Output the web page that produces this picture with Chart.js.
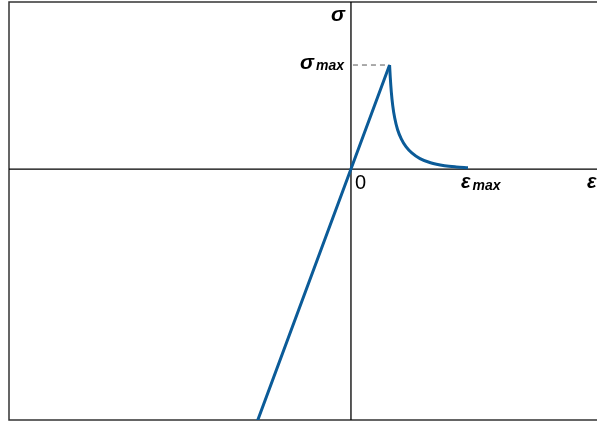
<!DOCTYPE html>
<html>
<head>
<meta charset="utf-8">
<script src="https://cdn.jsdelivr.net/npm/chart.js@4/dist/chart.umd.min.js"></script>
<style>
  body { margin: 0; background: #fff; }
  canvas { display: block; }
</style>
</head>
<body>
<canvas id="courbe" width="597" height="425"></canvas>
<script>
// données (unités réduites : sigma/sigmaMax, eps/epsMax)
const deformationLineaire = [-0.82, 0, 0.33];
const contrainteLineaire = [-2.485, 0, 1];
const deformationAdouc = [0.33, 0.336, 0.345, 0.357, 0.374, 0.398, 0.43, 0.47, 0.52, 0.59, 0.68, 0.80, 0.90, 1.0];
const contrainteAdouc = [1, 0.88, 0.74, 0.61, 0.49, 0.38, 0.29, 0.215, 0.155, 0.10, 0.06, 0.032, 0.02, 0.0125];
const sigmaMax = 1;
const epsMax = 1;

const bleu = '#0b5b98';

function points(xs, ys) {
    return xs.map((x, i) => ({ x: x, y: ys[i] }));
}

// cadre, axes passant par l'origine et étiquettes
const decor = {
    id: 'decor',
    beforeDatasetsDraw(chart) {
        const ctx = chart.ctx;
        const a = chart.chartArea;
        const sx = chart.scales.x, sy = chart.scales.y;
        const x0 = sx.getPixelForValue(0), y0 = sy.getPixelForValue(0);
        ctx.save();
        // cadre (gauche, haut, bas)
        ctx.strokeStyle = '#333';
        ctx.lineWidth = 1.5;
        ctx.beginPath();
        ctx.moveTo(a.right + 2, a.top);
        ctx.lineTo(a.left, a.top);
        ctx.lineTo(a.left, a.bottom);
        ctx.lineTo(a.right + 2, a.bottom);
        ctx.stroke();
        // axes
        ctx.strokeStyle = '#000';
        ctx.lineWidth = 1.3;
        ctx.beginPath();
        ctx.moveTo(a.left, y0); ctx.lineTo(a.right + 2, y0);
        ctx.moveTo(x0, a.top); ctx.lineTo(x0, a.bottom);
        ctx.stroke();
        // tirets sigma max
        const yMax = sy.getPixelForValue(sigmaMax);
        const xPic = sx.getPixelForValue(deformationLineaire[2]);
        ctx.strokeStyle = '#555';
        ctx.lineWidth = 1;
        ctx.setLineDash([5, 4]);
        ctx.beginPath();
        ctx.moveTo(x0 + 2, yMax); ctx.lineTo(xPic, yMax);
        ctx.stroke();
        ctx.setLineDash([]);
        ctx.restore();
    },
    afterDraw(chart) {
        const ctx = chart.ctx;
        const a = chart.chartArea;
        const sx = chart.scales.x, sy = chart.scales.y;
        const x0 = sx.getPixelForValue(0), y0 = sy.getPixelForValue(0);
        ctx.save();
        ctx.fillStyle = '#000';
        ctx.textBaseline = 'alphabetic';
        // sigma
        ctx.textAlign = 'right';
        ctx.font = 'italic bold 21px "Liberation Sans", Arial, sans-serif';
        ctx.fillText('σ', x0 - 6, a.top + 19);
        // sigma max
        const yMax = sy.getPixelForValue(sigmaMax);
        ctx.font = 'italic bold 14px "Liberation Sans", Arial, sans-serif';
        const wMax = ctx.measureText('max').width;
        ctx.fillText('max', x0 - 7, yMax + 5);
        ctx.font = 'italic bold 21px "Liberation Sans", Arial, sans-serif';
        ctx.fillText('σ', x0 - 9 - wMax, yMax + 4);
        // zéro
        ctx.textAlign = 'left';
        ctx.font = '20px "Liberation Sans", Arial, sans-serif';
        ctx.fillText('0', x0 + 4, y0 + 20);
        // epsilon max
        const xe = sx.getPixelForValue(epsMax);
        ctx.font = 'italic bold 20px "Liberation Sans", Arial, sans-serif';
        ctx.fillText('ε', xe - 7, y0 + 19);
        const we = ctx.measureText('ε').width;
        ctx.font = 'italic bold 14px "Liberation Sans", Arial, sans-serif';
        ctx.fillText('max', xe - 7 + we + 2, y0 + 21);
        // epsilon
        ctx.font = 'italic bold 20px "Liberation Sans", Arial, sans-serif';
        ctx.fillText('ε', a.right - 10, y0 + 19);
        ctx.restore();
    }
};

new Chart(document.getElementById('courbe'), {
    type: 'scatter',
    data: {
        datasets: [
            {
                data: points(deformationLineaire, contrainteLineaire),
                showLine: true,
                borderColor: bleu,
                borderWidth: 3,
                pointRadius: 0,
                tension: 0
            },
            {
                data: points(deformationAdouc, contrainteAdouc),
                showLine: true,
                borderColor: bleu,
                borderWidth: 3,
                pointRadius: 0,
                cubicInterpolationMode: 'monotone'
            }
        ]
    },
    options: {
        responsive: false,
        animation: false,
        layout: { padding: { left: 9, top: 2, right: 0, bottom: 5 } },
        plugins: { legend: { display: false }, tooltip: { enabled: false } },
        scales: {
            x: { type: 'linear', display: false, min: -2.923, max: 2.103 },
            y: { type: 'linear', display: false, min: -2.413, max: 1.606 }
        }
    },
    plugins: [decor]
});
</script>
</body>
</html>
